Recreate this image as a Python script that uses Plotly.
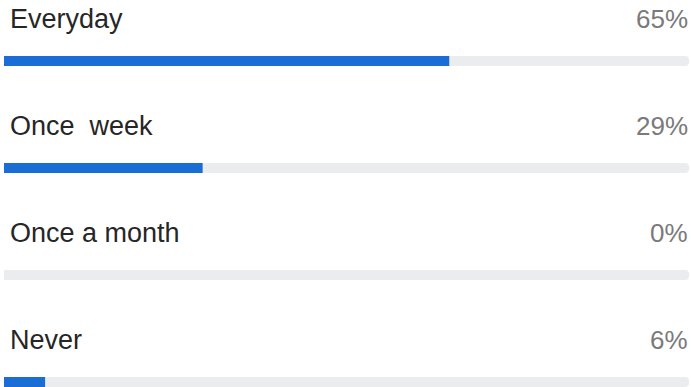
import plotly.graph_objects as go

categories = ["Everyday", "Once  week", "Once a month", "Never"]
values = [65, 29, 0, 6]
pct_labels = ["65%", "29%", "0%", "6%"]
track = [100, 100, 100, 100]

ypos = list(range(len(categories)))

fig = go.Figure()
fig.add_trace(go.Bar(x=track, y=ypos, orientation="h", width=0.093,
                     marker=dict(color="#ebecee", line=dict(width=0)),
                     hoverinfo="skip", showlegend=False))
fig.add_trace(go.Bar(x=values, y=ypos, orientation="h", width=0.093,
                     marker=dict(color="#1b6dd6", line=dict(width=0)),
                     showlegend=False))

for i, (c, p) in enumerate(zip(categories, pct_labels)):
    fig.add_annotation(x=0, y=i, text=c, xanchor="left", yanchor="middle",
                       showarrow=False, yshift=42, xshift=4,
                       font=dict(family="Liberation Sans, Arial", size=27, color="#262626"))
    fig.add_annotation(x=100, y=i, text=p, xanchor="right", yanchor="middle",
                       showarrow=False, yshift=42, xshift=1,
                       font=dict(family="Liberation Sans, Arial", size=26, color="#7a7a7a"))

fig.update_layout(
    width=691, height=387, margin=dict(l=0, r=0, t=0, b=0),
    paper_bgcolor="white", plot_bgcolor="white",
    barmode="overlay", barcornerradius=5,
    xaxis=dict(range=[-0.584, 100.29], visible=False, fixedrange=True),
    yaxis=dict(range=[3.047, -0.570], visible=False, fixedrange=True),
)
fig.write_html("out.html")
